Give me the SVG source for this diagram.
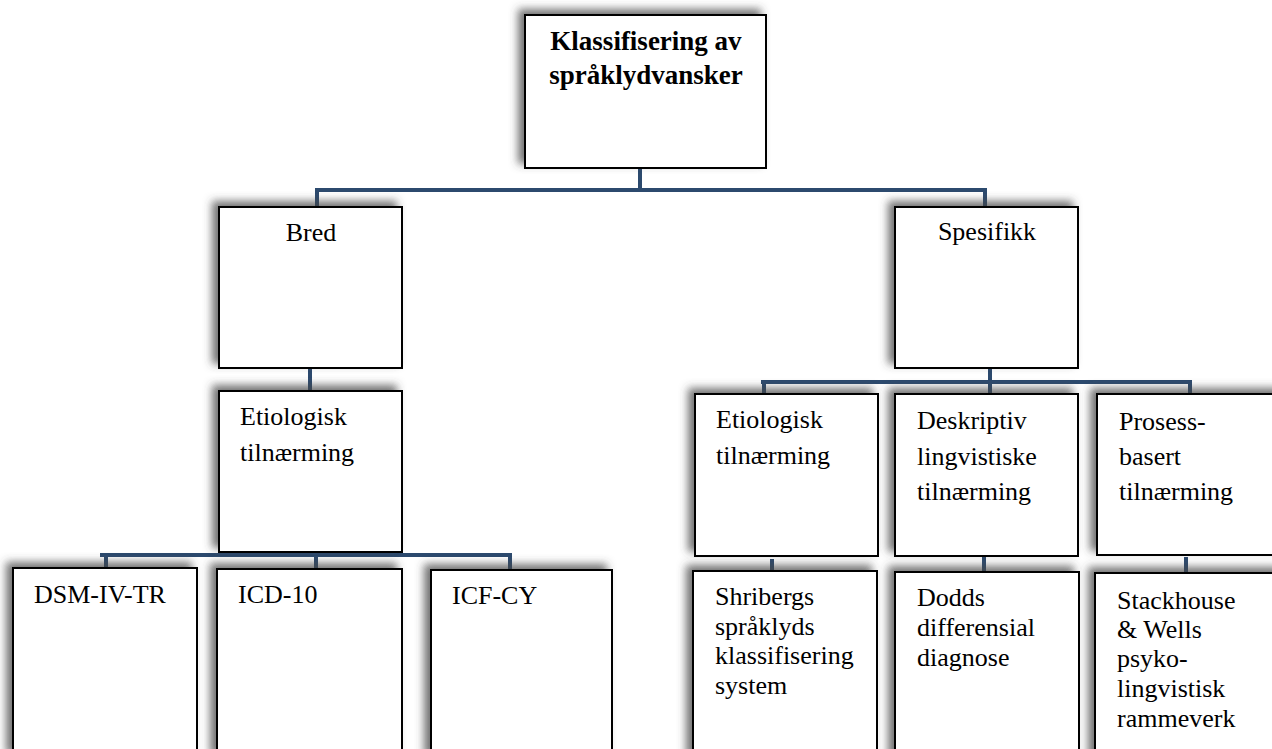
<svg xmlns="http://www.w3.org/2000/svg" width="1272" height="749" viewBox="0 0 1272 749">
<defs>
<filter id="sh" x="-20%" y="-20%" width="140%" height="140%">
<feGaussianBlur in="SourceAlpha" stdDeviation="4" result="b"/>
<feOffset in="b" dx="-6" dy="-5" result="o"/>
<feFlood flood-color="#444" flood-opacity="0.75"/>
<feComposite in2="o" operator="in" result="s"/>
<feMerge><feMergeNode in="s"/><feMergeNode in="SourceGraphic"/></feMerge>
</filter>
</defs>
<style>
.box{fill:#fff;stroke:#000;stroke-width:2;filter:url(#sh)}
.t{font-family:"Liberation Serif","Times New Roman",serif;font-size:26px;fill:#000}
.b{font-weight:bold;font-size:27px}
.c{text-anchor:middle}
.con{fill:none;stroke:#2C4A6E;stroke-width:4}
</style>
<rect width="1272" height="749" fill="#fff"/>
<g id="connectors">
<path class="con" d="M640 168V190M315 190H987M317 190V207M985 190V207"/>
<path class="con" d="M310 368V391"/>
<path class="con" d="M990 368V394M761 382H1192M764 382V394M1190 382V394"/>
<path class="con" d="M316 552V570M100 555H512M106 555V568M510 555V572"/>
<path class="con" d="M772 559V572M984 555V576M1186 557V573"/>
</g>
<g id="root"><rect class="box" x="525" y="15" width="241" height="153"/>
<text class="t b c" x="646" y="50">Klassifisering av</text>
<text class="t b c" x="646" y="84">språklydvansker</text></g>
<g id="bred"><rect class="box" x="219" y="207" width="183" height="161"/>
<text class="t c" x="311" y="241">Bred</text></g>
<g id="spesifikk"><rect class="box" x="895" y="207" width="183" height="161"/>
<text class="t c" x="987" y="240">Spesifikk</text></g>
<g id="etio-bred"><rect class="box" x="219" y="391" width="183" height="161"/>
<text class="t" x="240" y="425">Etiologisk</text>
<text class="t" x="240" y="461">tilnærming</text></g>
<g id="dsm"><rect class="box" x="13" y="568" width="184" height="190"/>
<text class="t" x="34" y="603">DSM-IV-TR</text></g>
<g id="icd"><rect class="box" x="217" y="569" width="185" height="190"/>
<text class="t" x="238" y="603">ICD-10</text></g>
<g id="icf"><rect class="box" x="431" y="570" width="181" height="190"/>
<text class="t" x="452" y="604">ICF-CY</text></g>
<g id="etio-spes"><rect class="box" x="695" y="394" width="183" height="162"/>
<text class="t" x="716" y="428">Etiologisk</text>
<text class="t" x="716" y="464">tilnærming</text></g>
<g id="deskriptiv"><rect class="box" x="895" y="394" width="183" height="162"/>
<text class="t" x="917" y="429">Deskriptiv</text>
<text class="t" x="917" y="465">lingvistiske</text>
<text class="t" x="917" y="500">tilnærming</text></g>
<g id="prosess"><rect class="box" x="1097" y="394" width="190" height="161"/>
<text class="t" x="1119" y="430">Prosess-</text>
<text class="t" x="1119" y="465">basert</text>
<text class="t" x="1119" y="500">tilnærming</text></g>
<g id="shriberg"><rect class="box" x="693" y="571" width="184" height="190"/>
<text class="t" x="715" y="605">Shribergs</text>
<text class="t" x="715" y="635">språklyds</text>
<text class="t" x="715" y="664">klassifisering</text>
<text class="t" x="715" y="694">system</text></g>
<g id="dodd"><rect class="box" x="895" y="572" width="184" height="190"/>
<text class="t" x="917" y="606">Dodds</text>
<text class="t" x="917" y="636">differensial</text>
<text class="t" x="917" y="666">diagnose</text></g>
<g id="stackhouse"><rect class="box" x="1095" y="573" width="192" height="190"/>
<text class="t" x="1117" y="609">Stackhouse</text>
<text class="t" x="1117" y="638">&amp; Wells</text>
<text class="t" x="1117" y="667">psyko-</text>
<text class="t" x="1117" y="697">lingvistisk</text>
<text class="t" x="1117" y="727">rammeverk</text></g>
</svg>
